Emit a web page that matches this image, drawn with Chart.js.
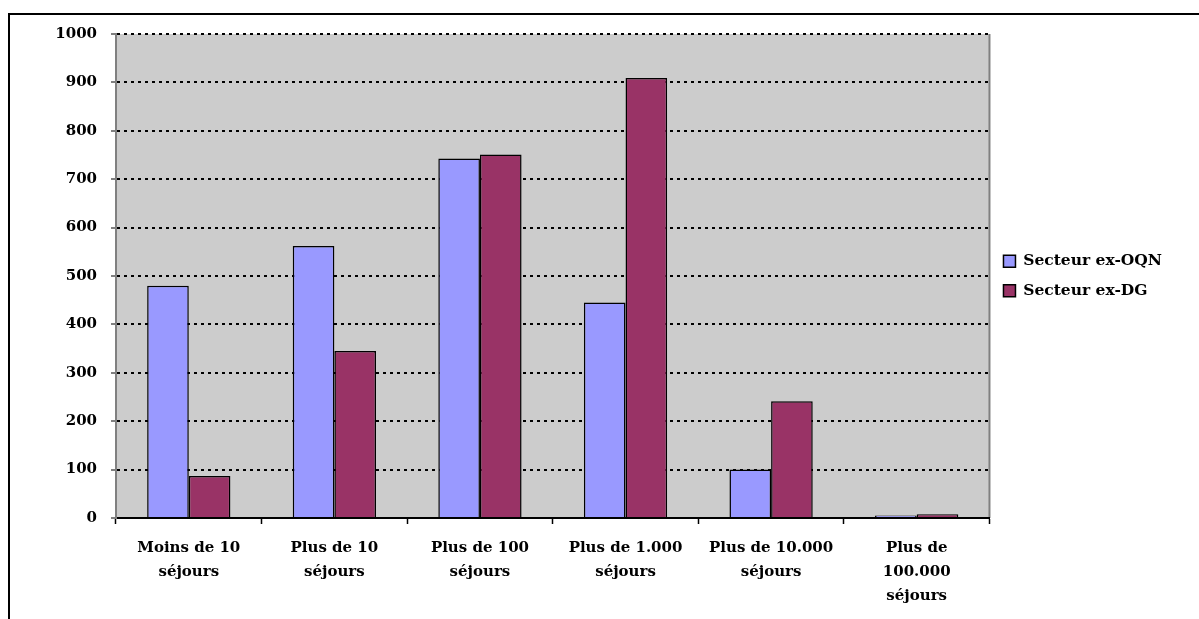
<!DOCTYPE html>
<html>
<head>
<meta charset="utf-8">
<script src="https://cdn.jsdelivr.net/npm/chart.js@4.4.0/dist/chart.umd.min.js"></script>
<style>
  html, body { margin: 0; padding: 0; background: #fff; overflow: hidden; }
  #wrap { position: relative; width: 1199px; height: 619px; }
  #graf { display: block; }
  #frame {
    position: absolute; left: 8px; top: 13px; width: 1300px; height: 700px;
    border-top: 2px solid #000; border-left: 2px solid #000; pointer-events: none;
  }
</style>
</head>
<body>
<div id="wrap">
  <canvas id="graf" width="1199" height="619"></canvas>
  <div id="frame"></div>
</div>
<script>
// catégories et séries
const categories = [
    ["Moins de 10", "séjours"],
    ["Plus de 10", "séjours"],
    ["Plus de 100", "séjours"],
    ["Plus de 1.000", "séjours"],
    ["Plus de 10.000", "séjours"],
    ["Plus de", "100.000", "séjours"],
];
const exOQN = [480, 562, 743, 445, 100, 5];
const exDG = [87, 345, 751, 909, 241, 8];
const yTicks = [0, 100, 200, 300, 400, 500, 600, 700, 800, 900, 1000];

const FONT = { family: "'DejaVu Serif'", size: 15, weight: 'bold' };

// fond gris de la zone de tracé + bordure droite
const plotBg = {
    id: 'plotBg',
    beforeDraw(chart) {
        const { ctx, chartArea: a } = chart;
        ctx.save();
        ctx.fillStyle = '#cccccc';
        ctx.fillRect(a.left, a.top, a.right - a.left, a.bottom - a.top);
        ctx.strokeStyle = '#808080';
        ctx.lineWidth = 2;
        ctx.beginPath();
        ctx.moveTo(a.right, a.top);
        ctx.lineTo(a.right, a.bottom);
        ctx.stroke();
        ctx.restore();
    }
};

const canva = document.getElementById('graf').getContext('2d');
let chart = new Chart(canva, {
    type: 'bar',
    data: {
        labels: categories,
        datasets: [
            {
                label: 'Secteur ex-OQN',
                data: exOQN,
                backgroundColor: '#9999ff',
                borderColor: '#000000',
                borderWidth: 1.5,
                categoryPercentage: 0.572,
                barPercentage: 1,
            },
            {
                label: 'Secteur ex-DG',
                data: exDG,
                backgroundColor: '#993366',
                borderColor: '#000000',
                borderWidth: 1.5,
                categoryPercentage: 0.572,
                barPercentage: 1,
            },
        ],
    },
    options: {
        responsive: false,
        animation: false,
        devicePixelRatio: 1,
        layout: { padding: { top: 34, left: 0, right: 27, bottom: 0 } },
        plugins: {
            tooltip: { enabled: false },
            legend: {
                position: 'right',
                fullSize: false,
                labels: {
                    color: '#000',
                    font: { ...FONT, size: 15.5 },
                    boxWidth: 12,
                    boxHeight: 12,
                    padding: 14,
                },
            },
        },
        scales: {
            x: {
                offset: true,
                grid: {
                    offset: true,
                    drawOnChartArea: false,
                    drawTicks: true,
                    tickLength: 6,
                    tickWidth: 1.5,
                    tickColor: '#000',
                },
                border: { color: '#000', width: 2 },
                ticks: {
                    color: '#000',
                    font: { ...FONT, lineHeight: 1.6 },
                    padding: 12,
                    maxRotation: 0,
                    autoSkip: false,
                },
                afterFit(scale) { scale.height = 101; },
            },
            y: {
                min: 0,
                max: 1000,
                afterBuildTicks(scale) { scale.ticks = yTicks.map(v => ({ value: v })); },
                grid: {
                    color: '#000',
                    lineWidth: 2,
                    tickLength: 5,
                    tickWidth: 2,
                    tickColor: '#808080',
                },
                border: { color: '#808080', width: 2, dash: [3, 4] },
                ticks: {
                    color: '#000',
                    font: FONT,
                    padding: 14,
                    callback: (v) => String(v),
                },
                afterFit(scale) { scale.width = 116; },
            },
        },
    },
    plugins: [plotBg],
});
</script>
</body>
</html>
